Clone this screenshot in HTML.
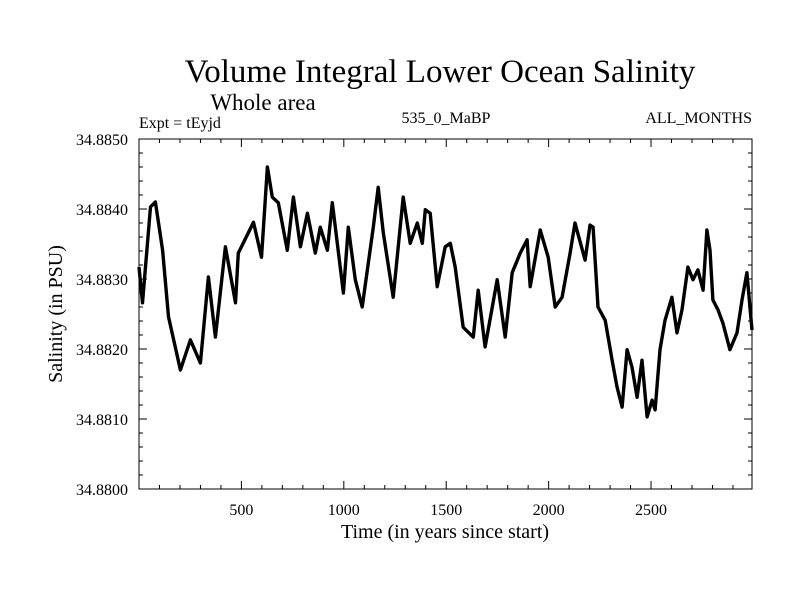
<!DOCTYPE html>
<html><head><meta charset="utf-8"><style>
html,body{margin:0;padding:0;background:#fff;}
svg{display:block;font-family:"Liberation Serif",serif;}
</style></head><body>
<svg id="chart" width="800" height="600">
<text x="440" y="82" font-size="33" text-anchor="middle">Volume Integral Lower Ocean Salinity</text>
<text x="263" y="110" font-size="23" text-anchor="middle">Whole area</text>
<text x="139" y="128" font-size="16">Expt = tEyjd</text>
<text x="446" y="123" font-size="16" text-anchor="middle">535_0_MaBP</text>
<text x="752" y="123" font-size="16" text-anchor="end">ALL_MONTHS</text>
<text x="445" y="538" font-size="20" text-anchor="middle">Time (in years since start)</text>
<text transform="translate(62,314) rotate(-90)" font-size="20" text-anchor="middle">Salinity (in PSU)</text>
<g id="axes"></g>
<path id="series" fill="none" stroke="#000" stroke-width="3.4" stroke-linejoin="round"></path>
<rect x="139" y="139" width="613" height="350" fill="none" stroke="#000" stroke-width="1"></rect>
</svg>
<script>
const years=[0,17,56,80,115,144,202,251,300,339,373,422,471,485,559,598,627,651,680,724,754,788,822,861,885,920,944,968,998,1022,1056,1090,1144,1168,1193,1241,1290,1324,1359,1383,1398,1422,1456,1495,1520,1544,1583,1632,1656,1690,1749,1788,1822,1861,1895,1910,1959,1998,2032,2066,2105,2129,2178,2202,2217,2241,2276,2310,2334,2359,2383,2407,2432,2456,2481,2505,2520,2544,2568,2602,2627,2651,2680,2705,2729,2754,2773,2788,2802,2827,2851,2885,2920,2944,2968,2993];
const salinity=[34.88317,34.88266,34.88403,34.88410,34.88341,34.88246,34.88170,34.88213,34.88180,34.88303,34.88217,34.88346,34.88266,34.88337,34.88381,34.88331,34.88460,34.88417,34.88409,34.88341,34.88417,34.88346,34.88394,34.88337,34.88374,34.88341,34.88409,34.88351,34.88280,34.88374,34.88299,34.88260,34.88374,34.88431,34.88366,34.88274,34.88417,34.88351,34.88380,34.88351,34.88399,34.88394,34.88289,34.88346,34.88351,34.88317,34.88231,34.88217,34.88284,34.88203,34.88299,34.88217,34.88309,34.88337,34.88356,34.88289,34.88370,34.88331,34.88260,34.88274,34.88337,34.88380,34.88327,34.88377,34.88374,34.88260,34.88241,34.88184,34.88146,34.88117,34.88199,34.88174,34.88131,34.88184,34.88103,34.88127,34.88113,34.88199,34.88241,34.88274,34.88223,34.88256,34.88317,34.88299,34.88313,34.88284,34.88370,34.88341,34.88270,34.88256,34.88237,34.88199,34.88223,34.88270,34.88309,34.88227];
const xTickLabels=["500","1000","1500","2000","2500"];
const yTickLabels=["34.8800","34.8810","34.8820","34.8830","34.8840","34.8850"];
const X0=139,X1=752,Y0=139,Y1=489,xmin=0,xmax=2993,ymin=34.880,ymax=34.885;
const sx=v=>X0+(v-xmin)/(xmax-xmin)*(X1-X0);
const sy=v=>Y1-(v-ymin)/(ymax-ymin)*(Y1-Y0);
const NS="http://www.w3.org/2000/svg";
const axes=document.getElementById('axes');
function ln(x1,y1,x2,y2){const l=document.createElementNS(NS,'line');l.setAttribute('x1',x1);l.setAttribute('y1',y1);l.setAttribute('x2',x2);l.setAttribute('y2',y2);l.setAttribute('stroke','#000');l.setAttribute('stroke-width','1');


axes.appendChild(l);}
function tx(x,y,s,anchor,name){const t=document.createElementNS(NS,'text');t.setAttribute('x',x);t.setAttribute('y',y);t.setAttribute('font-size','16');t.setAttribute('text-anchor',anchor);t.textContent=s;


axes.appendChild(t);}
for(let v=100;v<xmax;v+=100){const x=sx(v);const L=(v%500===0)?8:4;ln(x,Y1,x,Y1-L);ln(x,Y0,x,Y0+L);}
xTickLabels.forEach(s=>tx(sx(+s),515,s,'middle','x-tick-label'));
for(let i=0;i<=25;i++){const v=ymin+i*0.0002;const y=sy(v);const L=(i%5===0)?8:4;ln(X0,y,X0+L,y);ln(X1,y,X1-L,y);}
yTickLabels.forEach(s=>tx(128,sy(+s)+6,s,'end','y-tick-label'));
let d='';years.forEach((yr,i)=>{d+=(i?'L':'M')+sx(yr).toFixed(1)+' '+sy(salinity[i]).toFixed(1);});
document.getElementById('series').setAttribute('d',d);
</script>
</body></html>
